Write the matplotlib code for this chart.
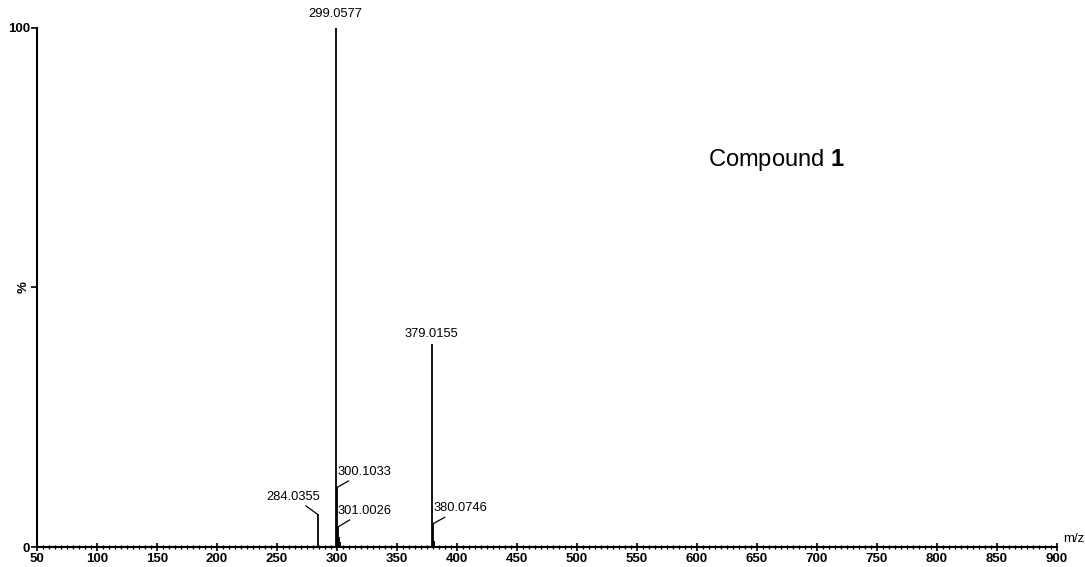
import matplotlib
matplotlib.use("Agg")
from matplotlib import pyplot as plt
from matplotlib.ticker import MultipleLocator

plt.rcParams['font.family'] = ['Liberation Sans', 'DejaVu Sans']
plt.rcParams['mathtext.fontset'] = 'custom'
plt.rcParams['mathtext.rm'] = 'Liberation Sans'
plt.rcParams['mathtext.bf'] = 'Liberation Sans:bold'

# peaks (m/z, relative intensity %)
mz = [284.0355, 299.0577, 300.1033, 301.0026, 302.0, 303.0, 379.0155, 380.0746, 381.0]
intensity = [6.3, 100, 11.5, 3.9, 2.0, 1.0, 39.2, 4.5, 1.2]

x_ticks = list(range(50, 901, 50))

fig = plt.figure(figsize=(10.85, 5.67), dpi=100)
ax = fig.add_axes([0.034, 0.035, 0.940, 0.916])

ax.vlines(mz, 0, intensity, color='black', lw=1.3)
ax.axhline(0, color='black', lw=1.5)

ax.set_xlim(50, 900)
ax.set_ylim(0, 100)
ax.spines['top'].set_visible(False)
ax.spines['right'].set_visible(False)
ax.spines['left'].set_linewidth(1.5)
ax.spines['bottom'].set_linewidth(1.5)

ax.set_xticks(x_ticks)
ax.set_xticklabels([str(t) for t in x_ticks], fontsize=9.5, fontweight='bold')
ax.xaxis.set_minor_locator(MultipleLocator(5))
ax.tick_params(axis='x', which='major', direction='inout', length=6, width=1.2, pad=1)
ax.tick_params(axis='x', which='minor', direction='inout', length=3, width=1.0)

ax.set_yticks([0, 50, 100])
ax.set_yticklabels(['0', '%', '100'], fontsize=9.5, fontweight='bold')
ax.get_yticklabels()[1].set_rotation(90)
ax.get_yticklabels()[1].set_va('center')
ax.tick_params(axis='y', which='major', direction='out', length=4, width=1.2, pad=1)

ax.text(905, 0.5, 'm/z', fontsize=9.5, ha='left', va='bottom')

line = dict(arrowstyle='-', color='black', lw=0.9, shrinkA=0, shrinkB=0)
fs = 9.3

# peak labels
ax.annotate('299.0577', xy=(299.0577, 100), xytext=(299.0577, 101.5),
            ha='center', va='bottom', fontsize=fs, annotation_clip=False)
ax.annotate('379.0155', xy=(379.0155, 39.2), xytext=(379.0155, 39.8),
            ha='center', va='bottom', fontsize=fs)
ax.annotate('284.0355', xy=(284.0355, 6.3), xytext=(264, 8.5),
            ha='center', va='bottom', fontsize=fs, arrowprops=line)
ax.annotate('300.1033', xy=(300.1033, 11.5), xytext=(300.5, 13.3),
            ha='left', va='bottom', fontsize=fs, arrowprops=line)
ax.annotate('301.0026', xy=(301.0026, 3.9), xytext=(300.5, 5.8),
            ha='left', va='bottom', fontsize=fs, arrowprops=line)
ax.annotate('380.0746', xy=(380.0746, 4.5), xytext=(381, 6.3),
            ha='left', va='bottom', fontsize=fs, arrowprops=line)

ax.text(0.658, 0.746, 'Compound $\\mathbf{1}$', transform=ax.transAxes,
        fontsize=17, ha='left', va='center')

fig.savefig('out.png', dpi=100)
